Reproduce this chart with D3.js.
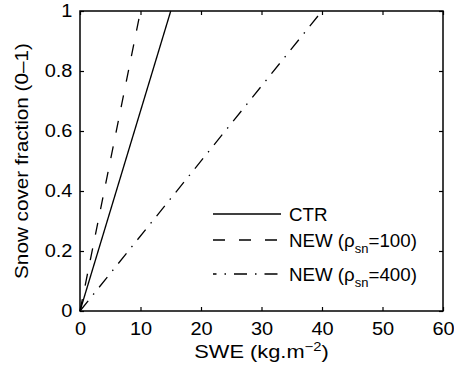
<!DOCTYPE html>
<html><head><meta charset="utf-8">
<script src="https://cdn.jsdelivr.net/npm/d3@7"></script>
<style>
html,body{margin:0;padding:0;background:#fff;}
svg{display:block;}
text{font-family:"Liberation Sans",Arial,Helvetica,sans-serif;fill:#000;}
</style></head>
<body>
<svg id="chart" width="454" height="379"></svg>
<script>
// ---- data ----
const xTicks = [0, 10, 20, 30, 40, 50, 60];
const yTicks = [0, 0.2, 0.4, 0.6, 0.8, 1];
const yTickLabels = ["0", "0.2", "0.4", "0.6", "0.8", "1"];
const seriesNames = ["CTR", "NEW (\u03C1sn=100)", "NEW (\u03C1sn=400)"];
const ctrSWE = [0, 15];
const ctrFrac = [0, 1];
const new100SWE = [0, 10];
const new100Frac = [0, 1];
const new400SWE = [0, 40];
const new400Frac = [0, 1];

// ---- layout ----
const L = 80, R = 443, T = 11, B = 311;
const FS = 18.5;
const svg = d3.select("#chart");
const x = d3.scaleLinear().domain([0, 60]).range([L, R]);
const y = d3.scaleLinear().domain([0, 1]).range([B, T]);

const series = [
  {name: "CTR", xs: ctrSWE, ys: ctrFrac, dash: null, off: 0},
  {name: "NEW100", xs: new100SWE, ys: new100Frac, dash: "12,14", off: 0},
  {name: "NEW400", xs: new400SWE, ys: new400Frac, dash: "13,8,1.5,8", off: -21}
];

const line = d3.line().x(d => x(d[0])).y(d => y(d[1]));
series.forEach(s => {
  svg.append("path")
    .datum(d3.zip(s.xs, s.ys))
    .attr("d", line)
    .attr("fill", "none")
    .attr("stroke", "#000")
    .attr("stroke-width", 1.3)
    .attr("stroke-dasharray", s.dash);
});

// axes (inside ticks, mirrored)
function styleAxis(g, sx) {
  g.select(".domain").remove();
  g.selectAll("line").attr("stroke", "#000").attr("stroke-width", 1.2);
  g.selectAll("text").attr("font-size", FS).attr("font-family", "Liberation Sans, Arial, sans-serif")
    .attr("transform", `scale(${sx},1)`);
}
const gx = svg.append("g").attr("transform", `translate(0,${B})`)
  .call(d3.axisBottom(x).tickValues(xTicks).tickFormat(d3.format("d")).tickSizeInner(-4).tickSizeOuter(0).tickPadding(11));
styleAxis(gx, 1.08);
const gxt = svg.append("g").attr("transform", `translate(0,${T})`)
  .call(d3.axisTop(x).tickValues(xTicks).tickFormat("").tickSizeInner(-4).tickSizeOuter(0));
styleAxis(gxt, 1);
const gy = svg.append("g").attr("transform", `translate(${L},0)`)
  .call(d3.axisLeft(y).tickValues(yTicks).tickFormat((d, i) => yTickLabels[i]).tickSizeInner(-4).tickSizeOuter(0).tickPadding(7));
styleAxis(gy, 1.08);
const gyr = svg.append("g").attr("transform", `translate(${R},0)`)
  .call(d3.axisRight(y).tickValues(yTicks).tickFormat("").tickSizeInner(-4).tickSizeOuter(0));
styleAxis(gyr, 1);

// box
svg.append("rect").attr("x", L).attr("y", T).attr("width", R - L).attr("height", B - T)
  .attr("fill", "none").attr("stroke", "#000").attr("stroke-width", 1.5);

// axis labels
const xl = svg.append("text").attr("transform", `translate(${(L + R) / 2},358) scale(1.18,1)`)
  .attr("text-anchor", "middle").attr("font-size", FS);
xl.append("tspan").text("SWE (kg.m");
xl.append("tspan").attr("font-size", 12.5).attr("dy", -7).text("\u22122");
xl.append("tspan").attr("dy", 7).text(")");

svg.append("text").attr("transform", `translate(28,${(T + B) / 2}) rotate(-90) scale(1.12,1)`)
  .attr("text-anchor", "middle").attr("font-size", FS)
  .text("Snow cover fraction (0\u20131)");

// legend
const legY = [221, 247, 281];
const legParts = [
  ["CTR", null, null],
  ["NEW (\u03C1", "sn", "=100)"],
  ["NEW (\u03C1", "sn", "=400)"]
];
series.forEach((s, i) => {
  const ly = legY[i] - 7;
  svg.append("path").datum([[213, ly], [281, ly]])
    .attr("d", d3.line())
    .attr("stroke", "#000").attr("stroke-width", 1.3).attr("fill", "none")
    .attr("stroke-dasharray", s.dash)
    .attr("stroke-dashoffset", s.off);
  const t = svg.append("text").attr("transform", `translate(289,${legY[i]}) scale(1.04,1)`)
    .attr("font-size", 18);
  const p = legParts[i];
  t.append("tspan").text(p[0]);
  if (p[1]) {
    t.append("tspan").attr("font-size", 12.5).attr("dy", 6).text(p[1]);
    t.append("tspan").attr("dy", -6).text(p[2]);
  }
});
</script>
</body></html>
